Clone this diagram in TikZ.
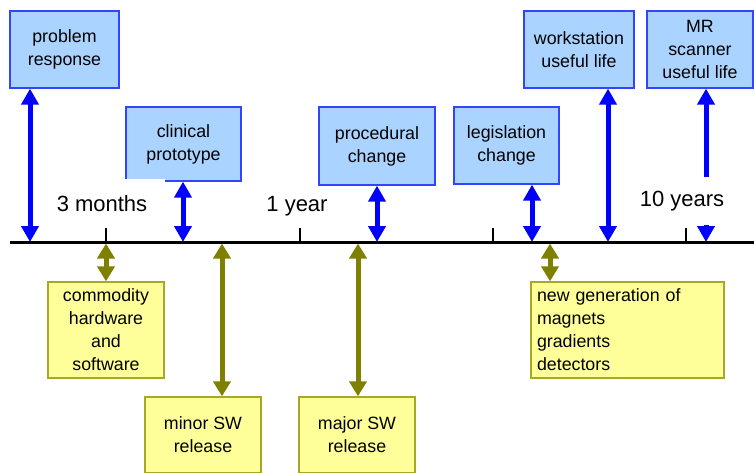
\documentclass[tikz,border=0pt]{standalone}
\usepackage{fontspec}
\setmainfont{Liberation Sans}
\usetikzlibrary{arrows.meta}
\definecolor{fillblue}{HTML}{AAD4FF}
\definecolor{lineblue}{HTML}{3344FF}
\definecolor{fillyellow}{HTML}{FFFF99}
\definecolor{lineyellow}{HTML}{A8A828}
\definecolor{olive}{HTML}{808000}
\begin{document}
\begin{tikzpicture}[x=1pt,y=-1pt,
  boxfont/.style={font=\fontsize{17.8}{23}\selectfont},
  bluebox/.style={boxfont, draw=lineblue, fill=fillblue, line width=1.3pt, align=center, inner sep=0pt},
  yellowbox/.style={boxfont, draw=lineyellow, fill=fillyellow, line width=1.3pt, align=center, inner sep=0pt},
  bluearrow/.style={draw=blue, line width=5pt, {Triangle[width=17pt,length=16pt]}-{Triangle[width=17pt,length=16pt]}},
  olivearrow/.style={draw=olive, line width=5pt, {Triangle[width=17pt,length=15pt]}-{Triangle[width=17pt,length=15pt]}},
  biglabel/.style={font=\fontsize{22}{26}\selectfont, inner sep=0pt},
  axisline/.style={line width=3pt},
  tickline/.style={line width=2pt}
]
\useasboundingbox (0,0) rectangle (754,473);
% upper boxes
\node[bluebox, minimum width=109pt, minimum height=77pt] (pr) at (64.5,49.5) {problem\\response};
\node[bluebox, minimum width=115pt, minimum height=74pt] (cp) at (183.5,144) {clinical\\prototype};
\node[bluebox, minimum width=116pt, minimum height=78pt] (pc) at (377,146) {procedural\\change};
\node[bluebox, minimum width=105pt, minimum height=77pt] (lc) at (506.5,145.5) {legislation\\change};
\node[bluebox, minimum width=110pt, minimum height=77pt] (ws) at (579,49.5) {workstation\\useful life};
\node[bluebox, minimum width=106pt, minimum height=77pt] (mr) at (700,49.5) {MR\\scanner\\useful life};
% lower boxes
\node[yellowbox, minimum width=116pt, minimum height=96pt] (cm) at (106,330) {commodity\\hardware\\and\\software};
\node[yellowbox, minimum width=116pt, minimum height=76pt] (mn) at (203,435) {minor SW\\release};
\node[yellowbox, minimum width=116pt, minimum height=76pt] (mj) at (357,435) {major SW\\release};
\node[yellowbox, minimum width=193pt, minimum height=96pt, align=left, text width=181pt] (ng) at (627.5,330) {new generation of\\magnets\\gradients\\detectors};
% axis coordinates
\coordinate (ax0) at (10,242);
\coordinate (ax1) at (754,242);
\coordinate (b1) at (30,242);
\coordinate (b2) at (183,242);
\coordinate (b3) at (377,242);
\coordinate (b4) at (532,242);
\coordinate (b5) at (608,242);
\coordinate (b6) at (706,242);
\coordinate (o1) at (106,243.5);
\coordinate (o2) at (222,243.5);
\coordinate (o3) at (358,243.5);
\coordinate (o4) at (550,243.5);
% blue arrows
\draw[bluearrow] (b1 |- pr.south) -- (b1);
\draw[bluearrow] (b2 |- cp.south) -- (b2);
\draw[bluearrow] (b3 |- pc.south) -- (b3);
\draw[bluearrow] (b4 |- lc.south) -- (b4);
\draw[bluearrow] (b5 |- ws.south) -- (b5);
\draw[bluearrow] (b6 |- mr.south) -- (b6);
% olive arrows
\draw[olivearrow] (o1) -- (o1 |- cm.north);
\draw[olivearrow] (o2) -- (o2 |- mn.north);
\draw[olivearrow] (o3) -- (o3 |- mj.north);
\draw[olivearrow] (o4) -- (o4 |- ng.north);
% labels
\node[biglabel, fill=white, minimum width=126pt, minimum height=50pt] (l3m) at (102,204) {3 months};
\node[biglabel] (l1y) at (297,206) {1 year};
\node[biglabel, fill=white, minimum width=90pt, minimum height=48pt] (l10y) at (682,201) {10 years};
% axis and ticks
\draw[axisline] (ax0) -- (ax1);
\foreach \t/\n in {106/t1,300/t2,493/t3,686/t4} {
  \coordinate (\n) at (\t,242);
  \draw[tickline] (\n) -- ++(0,-14);
}
\end{tikzpicture}
\end{document}
